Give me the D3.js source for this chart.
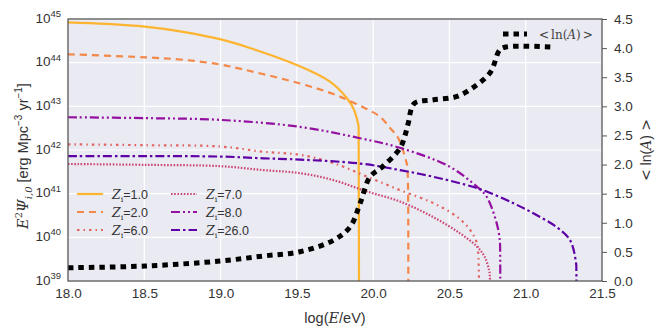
<!DOCTYPE html>
<html><head><meta charset="utf-8">
<script src="https://cdn.jsdelivr.net/npm/d3@7"></script>
<style>
html,body{margin:0;padding:0;background:#fff;}
svg{display:block;}
text{font-family:"Liberation Sans",Arial,sans-serif;}
.math{font-family:"DejaVu Serif","Liberation Serif",serif;}
</style></head>
<body>
<script>
// ---------- DATA (log10 of E^2 Psi) ----------
const xTicks = [18.0, 18.5, 19.0, 19.5, 20.0, 20.5, 21.0, 21.5];
const yLeftTickExps = [39, 40, 41, 42, 43, 44, 45];
const yRightTicks = [0.0, 0.5, 1.0, 1.5, 2.0, 2.5, 3.0, 3.5, 4.0, 4.5];
const seriesNames = ["1.0", "2.0", "6.0", "7.0", "8.0", "26.0"];

const z1_x = [18.0, 18.249, 18.505, 18.754, 18.996, 19.193, 19.499, 19.717, 19.827, 19.870, 19.903, 19.905, 19.905];
const z1_y = [44.924, 44.888, 44.824, 44.707, 44.538, 44.336, 43.947, 43.564, 43.191, 42.955, 42.573, 42.5, 35];

const z2_x = [18.0, 18.505, 18.754, 18.996, 19.193, 19.521, 19.739, 19.848, 19.958, 20.045, 20.111, 20.165, 20.220, 20.225, 20.225];
const z2_y = [44.192, 44.123, 44.066, 43.958, 43.809, 43.523, 43.283, 43.122, 42.939, 42.763, 42.504, 42.268, 41.696, 41.6, 35];

const z6_x = [18.0, 18.505, 18.996, 19.28, 19.52, 19.74, 19.96, 20.176, 20.39, 20.55, 20.635, 20.68, 20.69, 20.69];
const z6_y = [42.13, 42.11, 42.08, 41.96, 41.89, 41.70, 41.39, 41.08, 40.79, 40.47, 40.17, 39.87, 39.56, 35];

const z7_x = [18.0, 18.505, 18.996, 19.28, 19.52, 19.74, 19.96, 20.176, 20.39, 20.57, 20.68, 20.73, 20.76, 20.765, 20.765];
const z7_y = [41.68, 41.66, 41.63, 41.54, 41.47, 41.31, 41.05, 40.82, 40.47, 40.09, 39.79, 39.56, 39.25, 39.1, 35];

const z8_x = [18.0, 18.505, 18.996, 19.52, 19.914, 20.176, 20.50, 20.68, 20.744, 20.81, 20.83, 20.832, 20.832];
const z8_y = [42.75, 42.73, 42.69, 42.53, 42.27, 42.05, 41.62, 41.16, 40.93, 40.32, 39.94, 39.8, 35];

const z26_x = [18.0, 18.505, 18.996, 19.28, 19.52, 19.914, 20.176, 20.39, 20.61, 20.744, 20.92, 21.05, 21.20, 21.29, 21.33, 21.332, 21.332];
const z26_y = [41.86, 41.86, 41.85, 41.81, 41.78, 41.69, 41.54, 41.39, 41.20, 41.05, 40.78, 40.55, 40.24, 39.94, 39.41, 39.2, 35];

const lnA_x = [18.0, 18.505, 18.996, 19.28, 19.52, 19.74, 19.85, 19.914, 19.98, 20.06, 20.176, 20.21, 20.23, 20.27, 20.39, 20.55, 20.68, 20.77, 20.83, 20.87, 21.17];
const lnA_y = [0.228, 0.257, 0.343, 0.429, 0.503, 0.70, 0.933, 1.33, 1.79, 1.96, 2.28, 2.51, 2.71, 3.05, 3.11, 3.17, 3.37, 3.59, 3.97, 4.02, 4.02];

const colors = ["#fdb42f", "#f48849", "#e16462", "#cc4778", "#9410a0", "#5d01a6"];
const dashes = [null, "7,5", "2.5,4,1.5,4", "1.6,1.6", "9,3,2,3,2,3", "9,3,2.5,3"];
const seriesX = [z1_x, z2_x, z6_x, z7_x, z8_x, z26_x];
const seriesY = [z1_y, z2_y, z6_y, z7_y, z8_y, z26_y];

// ---------- LAYOUT ----------
const W = 666, H = 333;
const m = {left: 68, right: 602, top: 19, bottom: 281};
const svg = d3.select("body").append("svg").attr("width", W).attr("height", H);

const x = d3.scaleLinear().domain([18.0, 21.5]).range([m.left, m.right]);
const yL = d3.scaleLog().domain([1e39, 1e45]).range([m.bottom, m.top]);
const yR = d3.scaleLinear().domain([0, 4.5]).range([m.bottom, m.top]);

svg.append("defs").append("clipPath").attr("id", "clip")
  .append("rect").attr("x", m.left).attr("y", m.top).attr("width", m.right - m.left).attr("height", m.bottom - m.top);

svg.append("rect").attr("x", m.left).attr("y", m.top).attr("width", m.right - m.left).attr("height", m.bottom - m.top).attr("fill", "#eaeaf2");

// grid
const grid = svg.append("g");
xTicks.forEach(t => grid.append("line").attr("x1", x(t)).attr("x2", x(t)).attr("y1", m.top).attr("y2", m.bottom).attr("stroke", "#fff").attr("stroke-width", 1.2));
yLeftTickExps.forEach(e => grid.append("line").attr("x1", m.left).attr("x2", m.right).attr("y1", yL(Math.pow(10, e))).attr("y2", yL(Math.pow(10, e))).attr("stroke", "#fff").attr("stroke-width", 1.2));

const plot = svg.append("g").attr("clip-path", "url(#clip)");
const curve = d3.curveCatmullRom.alpha(0.5);

seriesX.forEach((xs, i) => {
  const pts = xs.map((v, j) => [v, Math.pow(10, seriesY[i][j])]);
  const line = d3.line().x(d => x(d[0])).y(d => yL(d[1])).curve(curve);
  const p = plot.append("path").attr("d", line(pts)).attr("fill", "none")
    .attr("stroke", colors[i]).attr("stroke-width", 2.2).attr("stroke-linejoin", "round");
  if (dashes[i]) p.attr("stroke-dasharray", dashes[i]);
});

const lnPts = lnA_x.map((v, j) => [v, lnA_y[j]]);
plot.append("path").attr("d", d3.line().x(d => x(d[0])).y(d => yR(d[1])).curve(curve)(lnPts))
  .attr("fill", "none").attr("stroke", "#000").attr("stroke-width", 5).attr("stroke-dasharray", "5.5,5");

// spines
svg.append("rect").attr("x", m.left).attr("y", m.top).attr("width", m.right - m.left).attr("height", m.bottom - m.top)
  .attr("fill", "none").attr("stroke", "#555").attr("stroke-width", 1.3);

// x axis
const xa = svg.append("g").attr("transform", `translate(0,${m.bottom})`)
  .call(d3.axisBottom(x).tickValues(xTicks).tickFormat(d3.format(".1f")).tickSize(0).tickPadding(7));
xa.select(".domain").remove();
xa.selectAll("text").attr("font-size", 13.5).attr("fill", "#333").attr("font-family", "Liberation Sans, Arial, sans-serif");

// left axis (10^n)
const yla = svg.append("g").attr("transform", `translate(${m.left},0)`)
  .call(d3.axisLeft(yL).tickValues(yLeftTickExps.map(e => Math.pow(10, e))).tickFormat("").tickSize(0));
yla.select(".domain").remove();
yLeftTickExps.forEach(e => {
  const t = svg.append("text").attr("x", m.left - 7).attr("y", yL(Math.pow(10, e)) + 3.5).attr("text-anchor", "end")
    .attr("font-size", 13.5).attr("fill", "#333");
  t.append("tspan").text("10");
  t.append("tspan").attr("dy", -5.5).attr("font-size", 9.5).text(String(e));
});

// right axis
const yra = svg.append("g").attr("transform", `translate(${m.right},0)`)
  .call(d3.axisRight(yR).tickValues(yRightTicks).tickFormat(d3.format(".1f")).tickSize(5).tickPadding(7));
yra.select(".domain").remove();
yra.selectAll("line").attr("stroke", "#555").attr("stroke-width", 1);
yra.selectAll("text").attr("font-size", 13.5).attr("fill", "#333").attr("font-family", "Liberation Sans, Arial, sans-serif");

// axis labels
const xl = svg.append("text").attr("x", (m.left + m.right) / 2).attr("y", 323).attr("text-anchor", "middle").attr("font-size", 14.5).attr("fill", "#333");
xl.append("tspan").text("log(");
xl.append("tspan").attr("class", "math").attr("font-style", "italic").text("E");
xl.append("tspan").text("/eV)");

const yl = svg.append("text").attr("transform", `translate(28,156) rotate(-90)`)
  .attr("text-anchor", "middle").attr("font-size", 14.5).attr("fill", "#333");
yl.append("tspan").attr("class", "math").attr("font-style", "italic").text("E");
yl.append("tspan").attr("class", "math").attr("dy", -6).attr("font-size", 10).text("2");
yl.append("tspan").attr("class", "math").attr("dy", 6).attr("font-style", "italic").text("Ψ");
yl.append("tspan").attr("class", "math").attr("dy", 3.5).attr("font-size", 10).attr("font-style", "italic").text("i,0");
yl.append("tspan").attr("dy", -3.5).text(" [erg Mpc");
yl.append("tspan").attr("dy", -6).attr("font-size", 10).text("−3");
yl.append("tspan").attr("dy", 6).text(" yr");
yl.append("tspan").attr("dy", -6).attr("font-size", 10).text("−1");
yl.append("tspan").attr("dy", 6).text("]");

const rl = svg.append("text").attr("transform", `translate(651,${(m.top + m.bottom) / 2}) rotate(-90)`)
  .attr("text-anchor", "middle").attr("font-size", 14).attr("fill", "#333").attr("class", "math");
rl.append("tspan").text("<");
rl.append("tspan").attr("font-family", "Liberation Sans, Arial, sans-serif").text(" ln(");
rl.append("tspan").attr("font-style", "italic").text("A");
rl.append("tspan").attr("font-family", "Liberation Sans, Arial, sans-serif").text(")");
rl.append("tspan").text(" >");

// legend (Z_i)
const legCols = [[77, 103, 112], [171, 197, 206]];
const legRows = [194, 212, 230];
seriesNames.forEach((nm, i) => {
  const c = legCols[Math.floor(i / 3)], ry = legRows[i % 3];
  const l = svg.append("line").attr("x1", c[0]).attr("x2", c[1]).attr("y1", ry).attr("y2", ry)
    .attr("stroke", colors[i]).attr("stroke-width", 2.2);
  if (dashes[i]) l.attr("stroke-dasharray", dashes[i]);
  const t = svg.append("text").attr("x", c[2]).attr("y", ry + 4.5).attr("font-size", 12.5).attr("fill", "#333");
  t.append("tspan").attr("class", "math").attr("font-style", "italic").text("Z");
  t.append("tspan").attr("class", "math").attr("dy", 3).attr("font-size", 8).text("i");
  t.append("tspan").attr("dy", -3).text("=" + nm);
});

// legend (<ln A>)
svg.append("line").attr("x1", 503).attr("x2", 527).attr("y1", 34).attr("y2", 34)
  .attr("stroke", "#000").attr("stroke-width", 5).attr("stroke-dasharray", "5.5,5");
const lt = svg.append("text").attr("x", 539).attr("y", 38.5).attr("font-size", 12).attr("fill", "#444").attr("class", "math");
lt.append("tspan").text("<");
lt.append("tspan").attr("dx", 2).text("ln(");
lt.append("tspan").attr("font-style", "italic").text("A");
lt.append("tspan").text(")");
lt.append("tspan").attr("dx", 2).text(">");
</script>
</body></html>
